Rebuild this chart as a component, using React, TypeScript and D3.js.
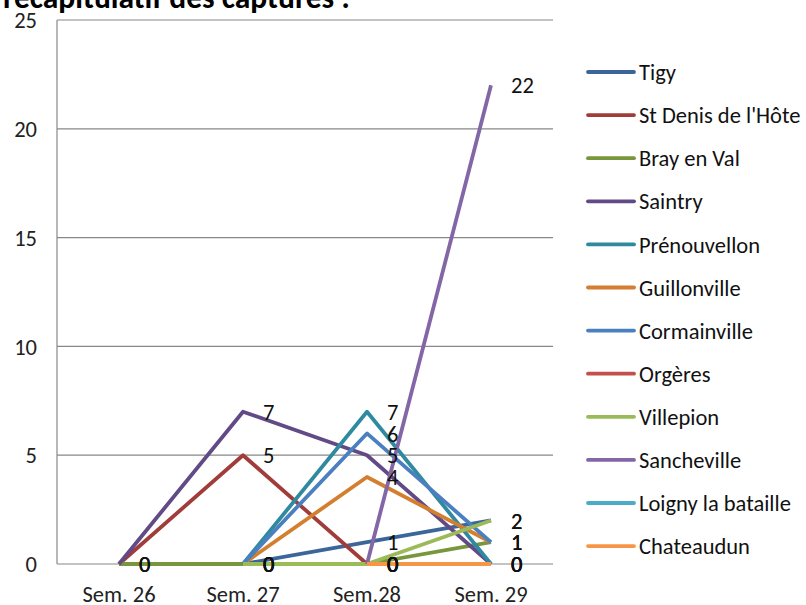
import React from "react";
import * as d3 from "d3";

const W = 806;
const H = 605;

const categories = ["Sem. 26", "Sem. 27", "Sem.28", "Sem. 29"];
const seriesNames = [
  "Tigy",
  "St Denis de l'Hôte",
  "Bray en Val",
  "Saintry",
  "Prénouvellon",
  "Guillonville",
  "Cormainville",
  "Orgères",
  "Villepion",
  "Sancheville",
  "Loigny la bataille",
  "Chateaudun",
];
const tigy = [null, 0, 1, 2];
const stDenis = [0, 5, 0, null];
const brayEnVal = [0, 0, 0, 1];
const saintry = [0, 7, 5, 0];
const prenouvellon = [null, 0, 7, 0];
const guillonville = [null, 0, 4, 1];
const cormainville = [null, 0, 6, 1];
const orgeres = [null, null, 0, 0];
const villepion = [null, 0, 0, 2];
const sancheville = [null, null, 0, 22];
const loigny = [null, null, 0, 0];
const chateaudun = [null, null, 0, 0];
const seriesValues: (number | null)[][] = [
  tigy, stDenis, brayEnVal, saintry, prenouvellon, guillonville,
  cormainville, orgeres, villepion, sancheville, loigny, chateaudun,
];
const seriesColors = [
  "#3c6699", "#a03d3a", "#78963c", "#614a86", "#2f8aa0", "#d47f2f",
  "#4b80c0", "#c2504d", "#9bbb59", "#8266a6", "#4bacc6", "#f79646",
];
const yTicks = [0, 5, 10, 15, 20, 25];
const titleText = "récapitulatif des captures :";

const FONT = "Carlito, Calibri, Lato, sans-serif";
const FS = 22.5;

export default function App() {
  const x = d3.scalePoint<string>().domain(categories).range([57, 553]).padding(0.5);
  const y = d3.scaleLinear().domain([0, 25]).range([564, 20]);
  const line = d3
    .line<number | null>()
    .defined((d) => d !== null)
    .x((_, i) => x(categories[i]) as number)
    .y((d) => y(d as number));

  const legendTop = 72;
  const legendStep = 43.1;

  return (
    <svg
      width={W}
      height={H}
      style={{ position: "absolute", left: 0, top: 0, background: "#fff" }}
      fontFamily={FONT}
    >
      <rect x={0} y={0} width={W} height={H} fill="#fff" />
      <text x={350} y={7.5} textAnchor="end" fontSize={31.5} fontWeight="bold" fill="#000">
        {titleText}
      </text>
      {yTicks.map((t) => (
        <g key={t}>
          <line x1={57} x2={553} y1={y(t)} y2={y(t)} stroke="#888" strokeWidth={1.2} />
          <text x={37} y={y(t)} dy="0.36em" textAnchor="end" fontSize={FS} fill="#222">
            {t}
          </text>
        </g>
      ))}
      <line x1={57} x2={57} y1={20} y2={564} stroke="#888" strokeWidth={1.2} />
      {categories.map((c) => (
        <text key={c} x={x(c)} y={602} textAnchor="middle" fontSize={FS} fill="#222">
          {c}
        </text>
      ))}
      {seriesValues.map((vals, si) => (
        <path
          key={si}
          d={line(vals) || ""}
          fill="none"
          stroke={seriesColors[si]}
          strokeWidth={3.8}
          strokeLinejoin="round"
        />
      ))}
      {seriesValues.map((vals, si) =>
        vals.map((v, i) =>
          v === null ? null : (
            <text
              key={si + "-" + i}
              x={(x(categories[i]) as number) + 20}
              y={y(v)}
              dy="0.36em"
              fontSize={FS}
              fill="#111"
            >
              {v}
            </text>
          )
        )
      )}
      {seriesNames.map((n, i) => (
        <g key={n}>
          <line
            x1={588}
            x2={634}
            y1={legendTop + i * legendStep}
            y2={legendTop + i * legendStep}
            stroke={seriesColors[i]}
            strokeWidth={3.8}
            strokeLinecap="round"
          />
          <text x={639} y={legendTop + i * legendStep} dy="0.36em" fontSize={FS} fill="#111">
            {n}
          </text>
        </g>
      ))}
    </svg>
  );
}
